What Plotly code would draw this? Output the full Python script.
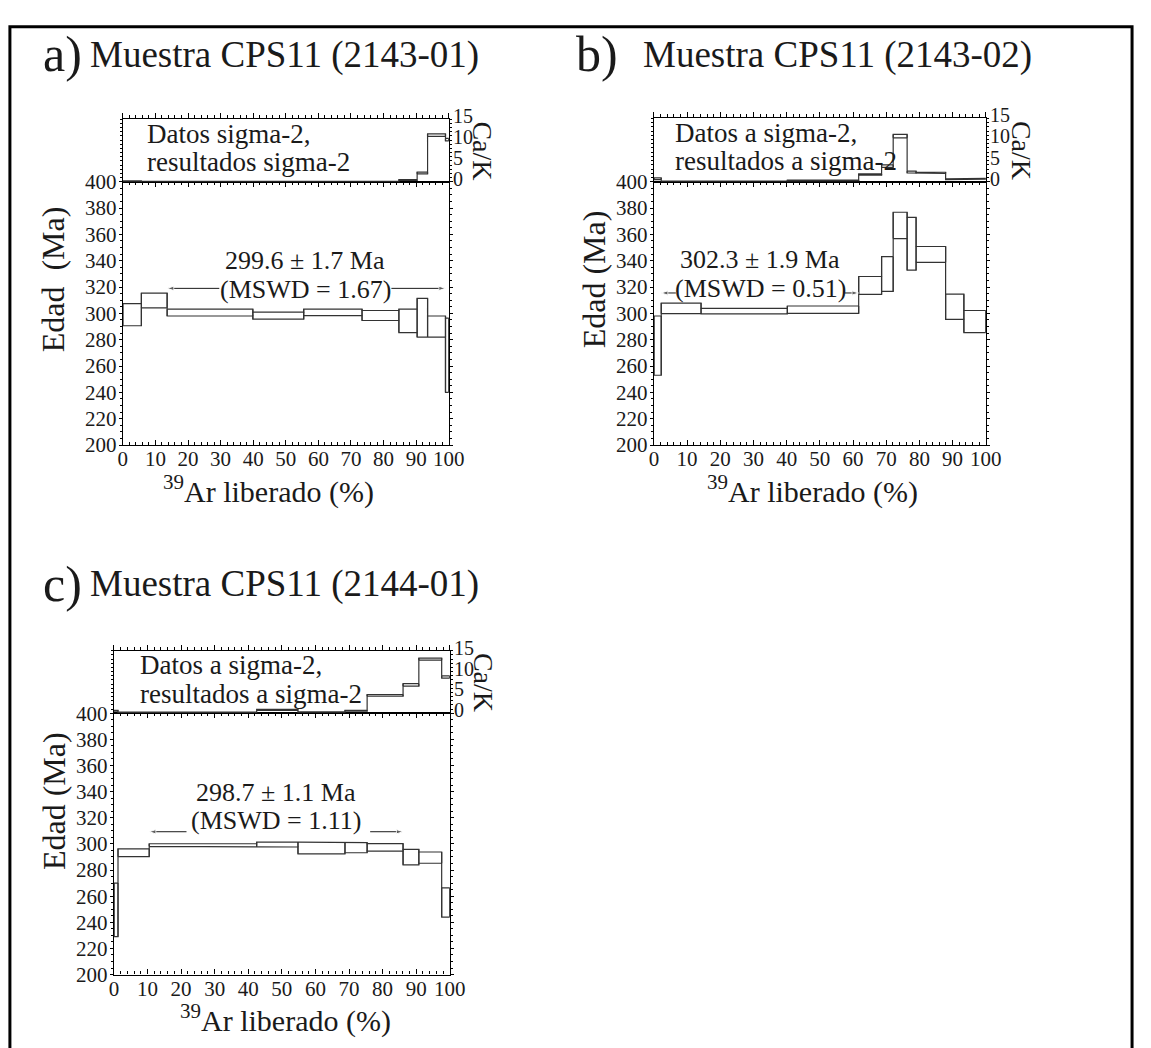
import plotly.graph_objects as go

W, H = 1151, 1048
FONT = "Liberation Serif"
INK = "#1a1a1a"
STEP = "#333333"

# ---------------- a) CPS11 (2143-01) ----------------
a_edges = [0, 5.7, 13.6, 39.9, 55.5, 73.4, 84.7, 90.3, 93.5, 99.0, 100]
a_age = [299.0, 309.8, 300.6, 298.3, 300.8, 298.4, 294.3, 296.7, 290.0, 268.2]
a_err = [8.4, 5.6, 2.6, 2.7, 2.5, 3.8, 8.9, 14.7, 8.0, 28.2]
a_cak = [0.1, 0.05, 0.05, 0.05, 0.05, 0.05, 0.4, 2.1, 11.2, 10.1]
a_cak_err = [0.1, 0.05, 0.05, 0.05, 0.05, 0.05, 0.1, 0.2, 0.3, 0.3]
a_plateau = [13.6, 99.0]
a_plateau_age, a_plateau_err, a_mswd = 299.6, 1.7, 1.67

# ---------------- b) CPS11 (2143-02) ----------------
b_edges = [0, 2.2, 14.2, 40.2, 61.7, 68.6, 72.1, 76.3, 79.0, 87.9, 93.4, 100]
b_age = [275.5, 303.8, 301.7, 302.8, 321.2, 329.9, 366.8, 352.9, 344.8, 305.0, 293.8]
b_err = [22.5, 4.0, 2.1, 2.8, 6.8, 13.2, 10.0, 20.1, 6.0, 9.6, 8.4]
b_cak = [0.7, 0.1, 0.1, 0.3, 1.7, 3.7, 10.8, 2.3, 2.1, 0.6, 0.7]
b_cak_err = [0.2, 0.05, 0.05, 0.1, 0.15, 0.3, 0.4, 0.2, 0.15, 0.1, 0.1]
b_plateau = [2.2, 61.7]
b_plateau_age, b_plateau_err, b_mswd = 302.3, 1.9, 0.51

# ---------------- c) CPS11 (2144-01) ----------------
c_edges = [0, 1.2, 10.5, 42.5, 54.8, 68.8, 75.4, 86.1, 90.8, 97.6, 100]
c_age = [249.5, 293.2, 299.1, 299.5, 296.9, 297.1, 297.3, 289.9, 289.5, 255.2]
c_err = [20.5, 3.0, 1.0, 1.9, 4.5, 3.9, 2.9, 5.9, 4.3, 11.2]
c_cak = [0.6, 0.2, 0.2, 0.8, 0.3, 0.6, 4.3, 6.8, 13.0, 8.7]
c_cak_err = [0.1, 0.05, 0.05, 0.1, 0.05, 0.1, 0.2, 0.3, 0.25, 0.25]
c_plateau = [10.5, 86.1]
c_plateau_age, c_plateau_err, c_mswd = 298.7, 1.1, 1.11

x_ticks = list(range(0, 101, 10))
age_ticks = list(range(200, 401, 20))
cak_ticks = [0, 5, 10, 15]


def px(x):
    return x / W


def py(y):
    return 1 - y / H


def step_outline(edges, val, err):
    """Upper and lower 2-sigma step lines joined into one closed outline,
    followed by the individual step boxes."""
    up = [v + e for v, e in zip(val, err)]
    lo = [v - e for v, e in zip(val, err)]
    xs, ys = [edges[0]], [lo[0]]
    for i, u in enumerate(up):
        xs += [edges[i], edges[i + 1]]
        ys += [u, u]
    for i in range(len(lo) - 1, -1, -1):
        xs += [edges[i + 1], edges[i]]
        ys += [lo[i], lo[i]]
    for i in range(len(up)):
        xs += [None, edges[i], edges[i], None, edges[i + 1], edges[i + 1]]
        ys += [None, lo[i], up[i], None, lo[i], up[i]]
    return xs, ys


panels = [
    dict(tag="a)", name="Muestra CPS11 (2143-01)", edges=a_edges, age=a_age, err=a_err,
         cak=a_cak, cak_err=a_cak_err, plat=a_plateau, pa=a_plateau_age, pe=a_plateau_err,
         mswd=a_mswd, note=("Datos sigma-2,", "resultados sigma-2"), ytitle="Edad\u00a0 (Ma)",
         left=120, right=452, top=108, mid=172, bot=442, gap=(29.6, 82.4), bracket=319,
         label_x=56, label_y1=340, label_y2=318, title_y=42, tag_x=37, name_x=85,
         ytitle_x=49, ytitle_y=272, xtitle_x=268, xtitle_y=488, cak_x=486, note_x=143),
    dict(tag="b)", name="Muestra CPS11 (2143-02)", edges=b_edges, age=b_age, err=b_err,
         cak=b_cak, cak_err=b_cak_err, plat=b_plateau, pa=b_plateau_age, pe=b_plateau_err,
         mswd=b_mswd, note=("Datos a sigma-2,", "resultados a sigma-2"), ytitle="Edad (Ma)",
         left=661, right=999, top=107, mid=172, bot=442, gap=(6.6, 57.5), bracket=315.5,
         label_x=32, label_y1=341, label_y2=319, title_y=42, tag_x=580, name_x=648,
         ytitle_x=600, ytitle_y=272, xtitle_x=822, xtitle_y=488, cak_x=1036, note_x=680),
    dict(tag="c)", name="Muestra CPS11 (2144-01)", edges=c_edges, age=c_age, err=c_err,
         cak=c_cak, cak_err=c_cak_err, plat=c_plateau, pa=c_plateau_age, pe=c_plateau_err,
         mswd=c_mswd, note=("Datos a sigma-2,", "resultados a sigma-2"), ytitle="Edad (Ma)",
         left=111, right=453, top=653, mid=717, bot=985, gap=(21.6, 76.3), bracket=309.3,
         label_x=48.4, label_y1=339, label_y2=318, title_y=585, tag_x=37, name_x=85,
         ytitle_x=50, ytitle_y=807, xtitle_x=286, xtitle_y=1030, cak_x=488, note_x=135),
]

fig = go.Figure()
layout = {}
annotations = []

axis_line = dict(showline=True, linecolor="black", linewidth=1.3, showgrid=False,
                 zeroline=False)

for i, p in enumerate(panels):
    n_age, n_cak = 2 * i + 1, 2 * i + 2
    xa = "x" if n_age == 1 else f"x{n_age}"
    ya = "y" if n_age == 1 else f"y{n_age}"
    xc, yc = f"x{n_cak}", f"y{n_cak}"
    xdom = [px(p["left"]), px(p["right"])]

    # age spectrum (2-sigma step envelope)
    xs, ys = step_outline(p["edges"], p["age"], p["err"])
    fig.add_trace(go.Scatter(x=xs, y=ys, mode="lines", xaxis=xa, yaxis=ya,
                             line=dict(color=STEP, width=1.2), showlegend=False,
                             hoverinfo="skip"))
    # Ca/K spectrum
    xs, ys = step_outline(p["edges"], p["cak"], p["cak_err"])
    fig.add_trace(go.Scatter(x=xs, y=ys, mode="lines", xaxis=xc, yaxis=yc,
                             line=dict(color=STEP, width=1.2), showlegend=False,
                             hoverinfo="skip", cliponaxis=False))

    # plateau bracket with arrow tips
    x0, x1 = p["plat"]
    g0, g1 = p["gap"]
    for tip, tail in ((x0, g0), (x1, g1)):
        fig.add_trace(go.Scatter(x=[tail, tip], y=[p["bracket"], p["bracket"]],
                                 mode="lines+markers", xaxis=xa, yaxis=ya,
                                 line=dict(color=INK, width=1),
                                 marker=dict(symbol=["circle", "arrow"], size=[0, 7],
                                             angleref="previous", color=INK),
                                 showlegend=False, hoverinfo="skip"))

    layout["xaxis" if n_age == 1 else f"xaxis{n_age}"] = dict(
        domain=xdom, range=[0, 100], anchor=ya, tickvals=x_ticks,
        ticks="inside", ticklen=5, tickwidth=1, tickcolor="black", mirror="ticks",
        minor=dict(dtick=2, ticklen=3, ticks="inside", tickcolor="black"),
        ticklabelstandoff=-5,
        tickfont=dict(family=FONT, size=21, color=INK), **axis_line)
    layout["yaxis" if n_age == 1 else f"yaxis{n_age}"] = dict(
        domain=[py(p["bot"]), py(p["mid"])], range=[200, 400], anchor=xa,
        tickvals=age_ticks, ticks="outside", ticklen=3, tickwidth=1, tickcolor="black",
        mirror="ticks", minor=dict(dtick=5, ticklen=2, ticks="outside", tickcolor="black"),
        ticklabelstandoff=-2,
        tickfont=dict(family=FONT, size=21, color=INK), **axis_line)
    layout[f"xaxis{n_cak}"] = dict(
        domain=xdom, range=[0, 100], anchor=yc, side="top", showticklabels=False,
        tickvals=x_ticks, ticks="outside", ticklen=5, tickwidth=1, tickcolor="black",
        mirror=True, minor=dict(dtick=2, ticklen=3, ticks="outside", tickcolor="black"),
        **axis_line)
    layout[f"yaxis{n_cak}"] = dict(
        domain=[py(p["mid"]), py(p["top"])], range=[0, 15], anchor=xc, side="right",
        tickvals=cak_ticks, ticks="outside", ticklen=2, tickwidth=1, tickcolor="black",
        mirror="ticks", minor=dict(dtick=1, ticklen=2, ticks="outside", tickcolor="black"),
        ticklabelstandoff=-3, ticklabelshift=-3,
        tickfont=dict(family=FONT, size=20, color=INK), **axis_line)

    # panel heading
    annotations.append(dict(text=p["tag"], x=px(p["tag_x"]), y=py(p["title_y"] - 1),
                            xref="paper", yref="paper", xanchor="left", yanchor="middle",
                            showarrow=False, font=dict(family=FONT, size=50, color=INK)))
    annotations.append(dict(text=p["name"], x=px(p["name_x"]), y=py(p["title_y"]),
                            xref="paper", yref="paper", xanchor="left", yanchor="middle",
                            showarrow=False, font=dict(family=FONT, size=37, color=INK)))
    # axis titles
    annotations.append(dict(text=p["ytitle"], x=px(p["ytitle_x"]), y=py(p["ytitle_y"]),
                            xref="paper", yref="paper", textangle=-90, showarrow=False,
                            xanchor="center", yanchor="middle",
                            font=dict(family=FONT, size=32, color=INK)))
    annotations.append(dict(text="<sup>39</sup>Ar liberado (%)",
                            x=px(p["xtitle_x"]), y=py(p["xtitle_y"]),
                            xref="paper", yref="paper", showarrow=False,
                            xanchor="center", yanchor="middle",
                            font=dict(family=FONT, size=30, color=INK)))
    annotations.append(dict(text="Ca/K", x=px(p["cak_x"]), y=py((p["top"] + p["mid"]) / 2),
                            xref="paper", yref="paper", textangle=90, showarrow=False,
                            xanchor="center", yanchor="middle",
                            font=dict(family=FONT, size=28, color=INK)))
    # note inside the Ca/K box
    for k, line in enumerate(p["note"]):
        annotations.append(dict(text=line, x=px(p["note_x"]), y=py(p["top"] + 15 + 29 * k),
                                xref="paper", yref="paper", xanchor="left",
                                yanchor="middle", showarrow=False,
                                font=dict(family=FONT, size=27, color=INK)))
    # plateau age
    annotations.append(dict(text=f"{p['pa']:.1f} \u00b1 {p['pe']:.1f} Ma", x=p["label_x"],
                            y=p["label_y1"], xref=xa, yref=ya, showarrow=False,
                            font=dict(family=FONT, size=26, color=INK)))
    annotations.append(dict(text=f"(MSWD = {p['mswd']:.2f})", x=p["label_x"],
                            y=p["label_y2"], xref=xa, yref=ya, showarrow=False,
                            font=dict(family=FONT, size=26, color=INK)))

layout["annotations"] = annotations
layout["shapes"] = [dict(type="rect", xref="paper", yref="paper",
                         x0=px(5), x1=px(1148), y0=py(1070), y1=py(13),
                         line=dict(color="black", width=3))]

fig.update_layout(**layout)
fig.update_layout(width=W, height=H, margin=dict(l=0, r=0, t=0, b=0),
                  paper_bgcolor="white", plot_bgcolor="white", showlegend=False,
                  font=dict(family=FONT, color=INK))

# flush the figure against the page corner
fig.write_html("out.html", post_script="document.body.style.margin = '0';")
